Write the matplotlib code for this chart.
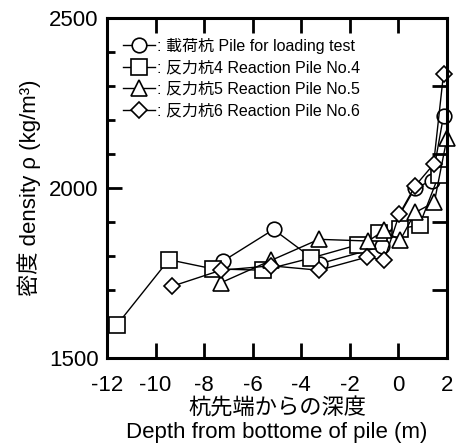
import matplotlib
matplotlib.use("Agg")
import matplotlib.pyplot as plt

plt.rcParams['font.family'] = ['Liberation Sans', 'Noto Sans CJK JP', 'DejaVu Sans']

# Data
x_load = [-7.24, -5.14, -3.24, -0.69, 0.69, 1.38, 1.86]
y_load = [1784, 1878, 1777, 1828, 2001, 2021, 2213]

x_p4 = [-11.59, -9.45, -7.63, -5.56, -3.59, -1.66, -0.79, 0.07, 0.87, 1.66]
y_p4 = [1597, 1789, 1762, 1758, 1794, 1833, 1868, 1880, 1891, 2037]

x_p5 = [-7.31, -5.24, -3.27, -1.24, -0.59, 0.07, 0.69, 1.48, 2.0]
y_p5 = [1721, 1787, 1849, 1844, 1875, 1846, 1928, 1958, 2147]

x_p6 = [-9.31, -7.31, -5.24, -3.27, -1.28, -0.59, 0.04, 0.69, 1.45, 1.86]
y_p6 = [1711, 1758, 1771, 1758, 1797, 1787, 1923, 2006, 2070, 2337]

labels = [': 載荷杭 Pile for loading test',
          ': 反力杭4 Reaction Pile No.4',
          ': 反力杭5 Reaction Pile No.5',
          ': 反力杭6 Reaction Pile No.6']
markers = ['o', 's', '^', 'D']
msizes = [10.5, 11, 11, 8]

xticks = [-12, -10, -8, -6, -4, -2, 0, 2]
yticks = [1500, 2000, 2500]

fig = plt.figure(figsize=(4.57, 4.44), dpi=100)
ax = fig.add_axes([0.234, 0.194, 0.744, 0.765])

series = [(x_load, y_load), (x_p4, y_p4), (x_p5, y_p5), (x_p6, y_p6)]
for (xs, ys), lab, m, ms in zip(series, labels, markers, msizes):
    ax.plot(xs, ys, color='black', lw=1.0, marker=m, ms=ms, mfc='white',
            mec='black', mew=1.2, label=lab, clip_on=False)

ax.set_xlim(-12, 2)
ax.set_ylim(1500, 2500)
ax.set_xticks(xticks)
ax.set_xticklabels([str(v) for v in xticks])
ax.set_yticks(yticks)
ax.set_yticks(range(1500, 2501, 100), minor=True)
ax.tick_params(axis='both', which='major', direction='in', length=11, width=2,
               labelsize=16)
ax.tick_params(axis='x', which='major', top=True, pad=12)
ax.tick_params(axis='y', which='major', right=False, pad=6)
ax.tick_params(axis='y', which='minor', direction='in', length=6, width=2, left=True, right=False)
for s in ax.spines.values():
    s.set_linewidth(2.2)

sec = ax.secondary_yaxis('right')
sec.set_yticks([1700, 1900, 2100, 2300])
sec.tick_params(direction='in', length=11, width=2, labelright=False)
sec.spines['right'].set_visible(False)

ax.set_xlabel('杭先端からの深度\nDepth from bottome of pile (m)', fontsize=16,
              linespacing=1.15, labelpad=2)
ax.set_ylabel('密度 density ρ (kg/m³)', fontsize=16, labelpad=6)

leg = ax.legend(loc='upper left', bbox_to_anchor=(0.02, 0.97), frameon=False,
                fontsize=11.5, handlelength=2.0, handletextpad=0.1,
                labelspacing=0.4, borderaxespad=0.2, markerscale=1.0)

fig.savefig('out.png', dpi=100)
